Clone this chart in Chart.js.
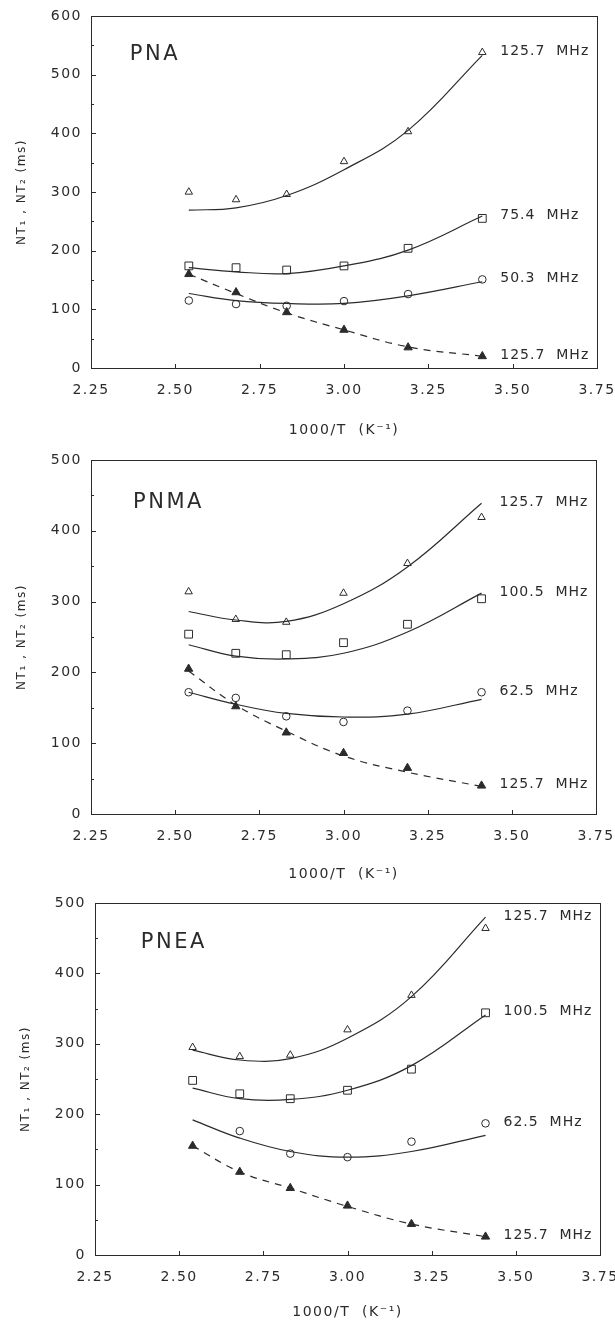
<!DOCTYPE html>
<html><head><meta charset="utf-8">
<script src="https://cdn.jsdelivr.net/npm/chart.js@4.4.0/dist/chart.umd.min.js"></script>
<style>
html,body{margin:0;padding:0;background:#fff;}
body{width:615px;height:1326px;overflow:hidden;position:relative;}
.wrap{position:absolute;left:0;width:615px;height:442px;}
canvas{display:block;}
</style>
</head><body>
<div class="wrap" style="top:0px"><canvas id="c1" width="615" height="442"></canvas></div>
<div class="wrap" style="top:442px"><canvas id="c2" width="615" height="442"></canvas></div>
<div class="wrap" style="top:884px"><canvas id="c3" width="615" height="442"></canvas></div>
<script>
// ---------- data ----------
const xInv = [2.54, 2.68, 2.83, 3.00, 3.19, 3.41];   // 1000/T (K^-1)
const xTicks = [2.25, 2.50, 2.75, 3.00, 3.25, 3.50, 3.75];

// PNA
const pnaT1_125 = [300, 287, 296, 352, 403, 538];
const pnaT1_75 = [174, 171, 167, 174, 204, 255];
const pnaT1_50 = [115, 109, 106, 114, 126, 151];
const pnaT2_125 = [160, 129, 95, 65, 35, 20];
const pnaFit_125 = [269, 273, 294, 338, 405, 533];
const pnaFit_75 = [171, 164, 161, 174, 201, 259];
const pnaFit_50 = [127, 115, 110, 110, 123, 147];
const pnaFitT2 = [160, 127, 94, 65, 36, 20];
const pnaLabels = ['125.7  MHz', '75.4  MHz', '50.3  MHz', '125.7  MHz'];

// PNMA
const pnmaT1_125 = [314, 275, 271, 312, 354, 419];
const pnmaT1_100 = [254, 227, 225, 242, 268, 304];
const pnmaT1_62 = [172, 164, 138, 130, 146, 172];
const pnmaT2_125 = [205, 152, 115, 86, 65, 40];
const pnmaFit_125 = [286, 274, 272, 297, 349, 439];
const pnmaFit_100 = [239, 223, 219, 227, 257, 312];
const pnmaFit_62 = [172, 155, 142, 137, 141, 162];
const pnmaFitT2 = [202, 154, 117, 82, 59, 39];
const pnmaLabels = ['125.7  MHz', '100.5  MHz', '62.5  MHz', '125.7  MHz'];

// PNEA
const pneaT1_125 = [295, 282, 284, 320, 369, 464];
const pneaT1_100 = [248, 229, 222, 234, 264, 344];
const pneaT1_62 = [null, 176, 144, 139, 161, 187];
const pneaT2_125 = [155, 118, 95, 70, 44, 26];
const pneaFit_125 = [291, 277, 279, 308, 367, 480];
const pneaFit_100 = [237, 222, 221, 234, 269, 341];
const pneaFit_62 = [192, 166, 147, 139, 147, 170];
const pneaFitT2 = [155, 118, 95, 69, 44, 26];
const pneaLabels = ['125.7  MHz', '100.5  MHz', '62.5  MHz', '125.7  MHz'];

const yTitle = 'NT\u2081 , NT\u2082 (ms)';
const xTitle = '1000/T  (K\u207B\u00B9)';

// ---------- styling ----------
const FONT = "'DejaVu Sans', 'Liberation Sans', sans-serif";
const INK = '#2b2b2b';

function pts(arr) {
  const out = [];
  arr.forEach((v, i) => { if (v !== null) out.push({x: xInv[i], y: v}); });
  return out;
}

const spacing = {
  id: 'spacing',
  beforeLayout(chart) { chart.ctx.letterSpacing = '1.5px'; },
  beforeDraw(chart) { chart.ctx.letterSpacing = '1.5px'; }
};

const frame = {
  id: 'frame',
  beforeDatasetsDraw(chart) {
    const {ctx, chartArea: a, scales: {x, y}} = chart;
    ctx.save();
    ctx.strokeStyle = INK;
    ctx.lineWidth = 1;
    ctx.strokeRect(Math.round(a.left) + 0.5, Math.round(a.top) + 0.5,
      Math.round(a.right - a.left), Math.round(a.bottom - a.top));
    ctx.beginPath();
    y.ticks.forEach(t => {
      const py = Math.round(y.getPixelForValue(t.value)) + 0.5;
      const len = (t.value % 100 === 0) ? 5 : 3;
      ctx.moveTo(a.left, py); ctx.lineTo(a.left + len, py);
    });
    x.ticks.forEach(t => {
      const px = Math.round(x.getPixelForValue(t.value)) + 0.5;
      ctx.moveTo(px, a.bottom); ctx.lineTo(px, a.bottom - 4);
    });
    ctx.stroke();
    ctx.restore();
  }
};

const tags = {
  id: 'tags',
  afterDatasetsDraw(chart, args, opts) {
    const {ctx, scales: {x, y}} = chart;
    ctx.save();
    ctx.fillStyle = INK;
    ctx.textBaseline = 'middle';
    ctx.textAlign = 'left';
    ctx.font = "14px " + FONT;
    ctx.letterSpacing = '1px';
    opts.series.forEach(s => {
      const n = xInv.length - 1;
      const vals = [s.pts[n], s.fit[n]].filter(v => v !== null);
      const vy = Math.max.apply(null, vals);
      const px = x.getPixelForValue(xInv[n]) + 18;
      const py = y.getPixelForValue(vy) - 1;
      ctx.fillText(s.label, px, py);
    });
    ctx.font = "21px " + FONT;
    ctx.letterSpacing = '2.5px';
    ctx.fillText(opts.name, x.getPixelForValue(opts.nameAt[0]), y.getPixelForValue(opts.nameAt[1]));
    ctx.restore();
  }
};

function makeChart(id, cfg) {
  const curve = (arr, dash) => ({
    data: pts(arr), showLine: true, borderColor: INK, borderWidth: 1.2,
    borderDash: dash || [], pointRadius: 0, tension: 0.4, fill: false
  });
  const marks = (arr, style, r, filled) => ({
    data: pts(arr), showLine: false, pointStyle: style, pointRadius: r,
    pointBorderColor: INK, pointBorderWidth: 1,
    pointBackgroundColor: filled ? INK : 'rgba(255,255,255,0)'
  });
  new Chart(document.getElementById(id), {
    type: 'scatter',
    data: {
      datasets: [
        curve(cfg.fits[0]), curve(cfg.fits[1]), curve(cfg.fits[2]), curve(cfg.fits[3], [7, 6]),
        marks(cfg.sets[0], 'triangle', 4.3, false),
        marks(cfg.sets[1], 'rect', 5.5, false),
        marks(cfg.sets[2], 'circle', 3.8, false),
        marks(cfg.sets[3], 'triangle', 4.8, true)
      ]
    },
    options: {
      responsive: false,
      animation: false,
      layout: {padding: {top: cfg.top, right: cfg.right, left: 0, bottom: 0}},
      plugins: {
        legend: {display: false},
        tooltip: {enabled: false},
        tags: {
          name: cfg.name, nameAt: cfg.nameAt,
          series: cfg.labels.map((l, i) => ({label: l, pts: cfg.sets[i], fit: cfg.fits[i]}))
        }
      },
      scales: {
        x: {
          type: 'linear', min: 2.25, max: 3.75,
          afterBuildTicks: ax => { ax.ticks = xTicks.map(v => ({value: v})); },
          ticks: {
            color: INK, font: {family: FONT, size: 14}, padding: 14,
            callback: v => v.toFixed(2), maxRotation: 0, autoSkip: false
          },
          grid: {display: false, drawTicks: false},
          border: {display: false},
          title: {display: true, text: xTitle, color: INK, font: {family: FONT, size: 14},
                  padding: {top: 0, bottom: cfg.xTitlePad}},
          afterFit: ax => { ax.height = 442 - cfg.bottom; ax.paddingLeft = 0; ax.paddingRight = 0; }
        },
        y: {
          type: 'linear', min: 0, max: cfg.ymax,
          ticks: {
            stepSize: 50, color: INK, font: {family: FONT, size: 14}, padding: 9,
            callback: v => (v % 100 === 0 ? String(v) : '')
          },
          grid: {display: false, drawTicks: false},
          border: {display: false},
          title: {display: true, text: yTitle, color: INK, font: {family: FONT, size: 12},
                  padding: {top: cfg.yTitlePad, bottom: 0}},
          afterFit: ax => { ax.width = cfg.left; ax.paddingTop = 0; ax.paddingBottom = 0; }
        }
      }
    },
    plugins: [spacing, frame, tags]
  });
}

makeChart('c1', {
  name: 'PNA', nameAt: [2.365, 535], ymax: 600,
  top: 16, bottom: 368, left: 91, right: 18, xTitlePad: 3, yTitlePad: 15,
  sets: [pnaT1_125, pnaT1_75, pnaT1_50, pnaT2_125],
  fits: [pnaFit_125, pnaFit_75, pnaFit_50, pnaFitT2],
  labels: pnaLabels
});
makeChart('c2', {
  name: 'PNMA', nameAt: [2.375, 440], ymax: 500,
  top: 18, bottom: 372, left: 91, right: 19, xTitlePad: 1, yTitlePad: 15,
  sets: [pnmaT1_125, pnmaT1_100, pnmaT1_62, pnmaT2_125],
  fits: [pnmaFit_125, pnmaFit_100, pnmaFit_62, pnmaFitT2],
  labels: pnmaLabels
});
makeChart('c3', {
  name: 'PNEA', nameAt: [2.386, 444], ymax: 500,
  top: 19, bottom: 371, left: 95, right: 15, xTitlePad: 5, yTitlePad: 19,
  sets: [pneaT1_125, pneaT1_100, pneaT1_62, pneaT2_125],
  fits: [pneaFit_125, pneaFit_100, pneaFit_62, pneaFitT2],
  labels: pneaLabels
});
</script>
</body></html>
